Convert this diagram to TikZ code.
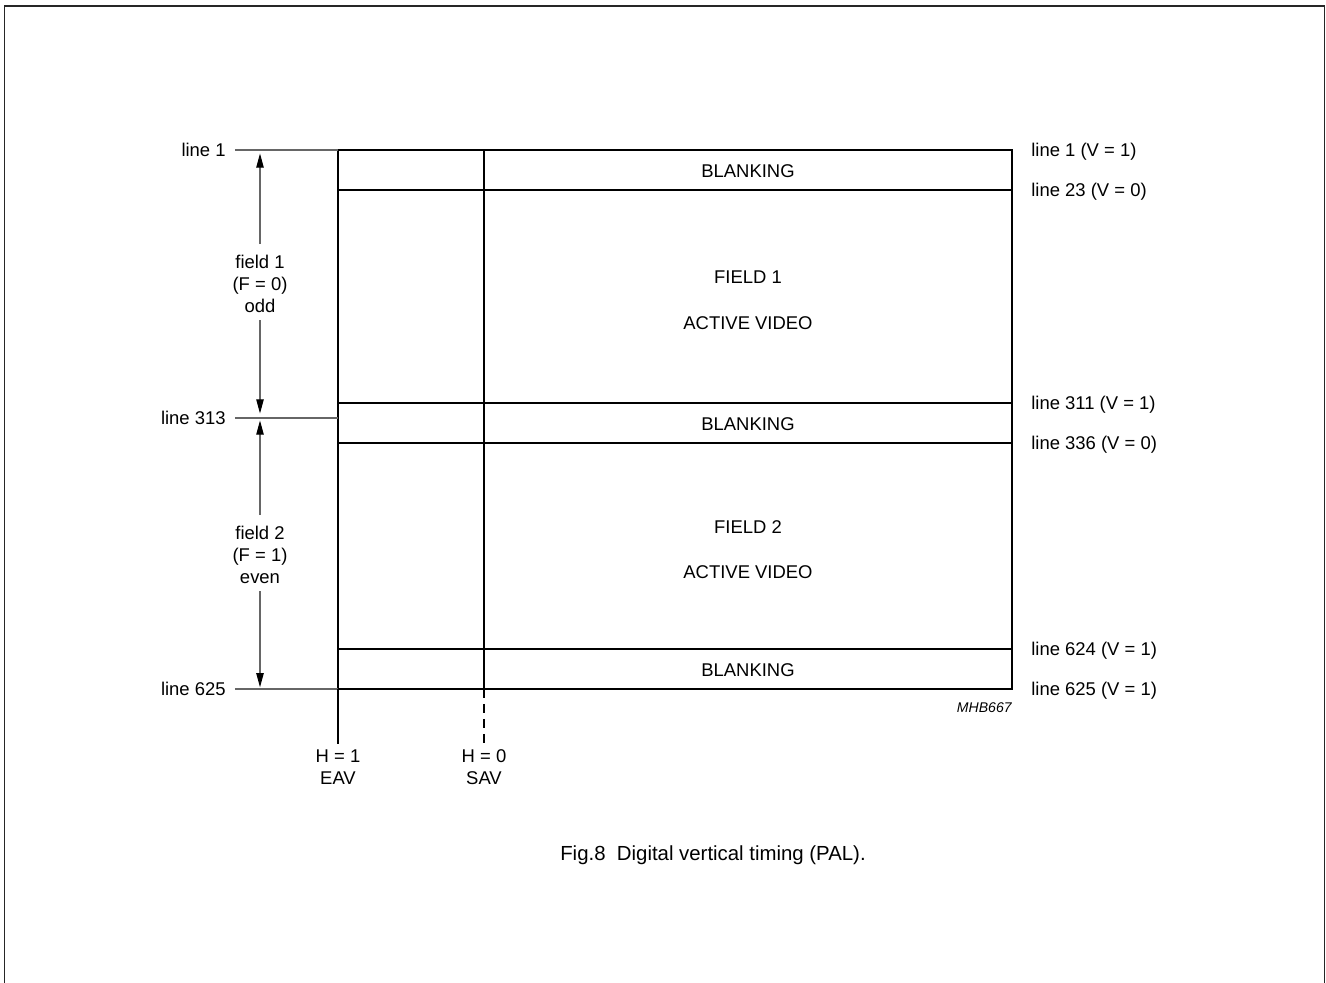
\documentclass[tikz,border=0pt]{standalone}
\usepackage{fontspec}
\setmainfont{Liberation Sans}
\usetikzlibrary{positioning, arrows.meta}

\begin{document}
\begin{tikzpicture}[x=0.02cm, y=-0.02cm,
	lbl/.style={font=\fontsize{10.5}{12.6}\selectfont, inner sep=0pt},
	grayline/.style={draw=black!60, line width=0.6pt},
	arr/.style={grayline, -{Triangle[length=8pt,width=4.2pt]}, arrows={[color=black]}},
	thinline/.style={line width=0.6pt}]
	\useasboundingbox (0,0) rectangle (1326,983);
	\draw[line width=1.1pt, black!85] (4.5,990) -- (4.5,6) -- (1324.5,6) -- (1324.5,990);
	
	\coordinate (TL) at (338,150); \coordinate (TR) at (1012,150);
	\coordinate (BL) at (338,689); \coordinate (BR) at (1012,689);
	\coordinate (ST) at (484,150); \coordinate (SB) at (484,689);
	
	\foreach \y in {190,403,443,649}
	\draw[thinline] (338,\y) -- (1012,\y);
	\draw[thinline] (ST) -- (SB);
	\draw[line width=1.4pt] (TL) rectangle (BR);
	
	\foreach \y/\t [count=\n] in {152/line 1 (V = 1),192/line 23 (V = 0),405/line 311 (V = 1),445/line 336 (V = 0),651/line 624 (V = 1),691/line 625 (V = 1)}
	\node[lbl, anchor=west] (R\n) at (1031,\y) {\t};
	
	\foreach \y/\t [count=\n] in {171/BLANKING,277/FIELD 1,323/ACTIVE VIDEO,424/BLANKING,527/FIELD 2,572/ACTIVE VIDEO,670/BLANKING}
	\node[lbl] (C\n) at (748,\y) {\t};
	
	\node[lbl, anchor=east] (L1) at (226,150) {line 1};
	\node[lbl, anchor=east] (L313) at (226,418) {line 313};
	\node[lbl, anchor=east] (L625) at (226,689) {line 625};
	\draw[grayline] ([xshift=5pt]L1.east) -- (TL);
	\draw[grayline] ([xshift=5pt]L313.east) -- (L313.east -| TL);
	\draw[grayline] ([xshift=5pt]L625.east) -- (BL);
	
	\coordinate (A1) at (260,150); \coordinate (A313) at (260,417); \coordinate (A625) at (260,689);
	\node[lbl, align=center] (F1) at (260,284) {field 1\\(F = 0)\\odd};
	\node[lbl, align=center] (F2) at (260,555) {field 2\\(F = 1)\\even};
	\draw[arr] ([yshift=6pt]F1.north) -- ([yshift=-2pt]A1);
	\draw[arr] ([yshift=-4pt]F1.south) -- ([yshift=2pt]A313);
	\draw[arr] ([yshift=6pt]F2.north) -- ([yshift=-2pt]A313);
	\draw[arr] ([yshift=-4pt]F2.south) -- ([yshift=1pt]A625);
	
	\node[lbl, align=center] (EAV) at (338,767) {H = 1\\EAV};
	\node[lbl, align=center] (SAV) at (484,767) {H = 0\\SAV};
	\draw[thinline] (BL) -- ([yshift=3pt]EAV.north);
	\draw[thinline, dash pattern=on 5pt off 3.5pt] (SB) -- ([yshift=3pt]SAV.north);
	
	\node[font=\fontsize{8}{9}\selectfont\itshape, inner sep=0pt, anchor=east] (code) at (1012,708) {MHB667};
	\node[font=\fontsize{11.6}{14}\selectfont, inner sep=0pt] (cap) at (713,855) {Fig.8\hspace{0.556em}Digital vertical timing (PAL).};
\end{tikzpicture}
\end{document}
